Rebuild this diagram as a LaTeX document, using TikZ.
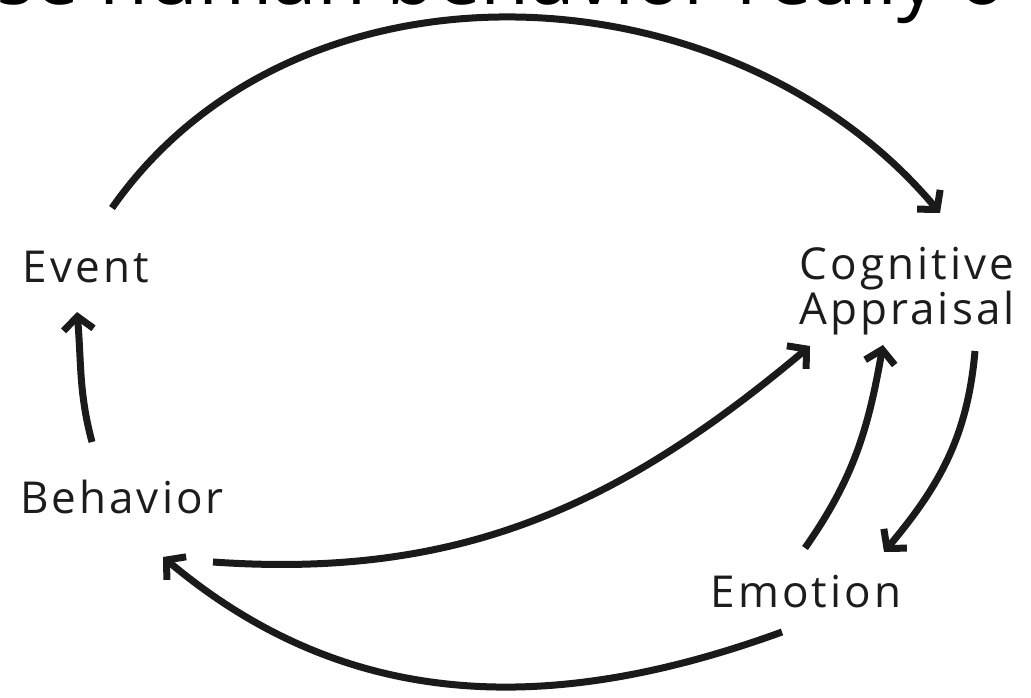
\documentclass[tikz,border=0pt]{standalone}
\usepackage{fontspec}
\usetikzlibrary{arrows.meta}
\newfontfamily\lblfont[LetterSpace=7]{Open Sans}
\newfontfamily\headfont{Open Sans}
\definecolor{musta}{HTML}{1A1A1A}
\definecolor{teksti}{HTML}{1C1C1C}

\begin{document}
\begin{tikzpicture}[x=1pt,y=1pt,
    lbl/.style={font=\lblfont\fontsize{44}{45}\selectfont, text=teksti, inner sep=0pt, align=center},
    nuoli/.style={draw=musta, line width=7pt, -{Straight Barb[length=13pt,width=30pt]}}]
				\useasboundingbox (0,0) rectangle (1031,697);
				\fill[white] (0,0) rectangle (1031,697);
				% otsikko, leikattu yläreunasta
				\begin{scope}
					\clip (0,0) rectangle (1031,697);
					\node[anchor=base west, inner sep=0pt, font=\headfont\fontsize{80}{84}\selectfont] (otsikko) at (-4,692) {se human behavior really o};
				\end{scope}
				\node[lbl] (event) at (86,430) {Event};
				\node[lbl] (cog) at (907,406) {Cognitive\\Appraisal};
				\node[lbl] (behavior) at (122,200) {Behavior};
				\node[lbl] (emotion) at (806,105) {Emotion};
				\draw[nuoli] ([shift={(26,59)}]event.center) to[out=55,in=130] ([shift={(33,78)}]cog.center);
				\draw[nuoli] ([shift={(-30,55)}]behavior.center) to[out=105,in=-85] ([shift={(-9,-45)}]event.center);
				\draw[nuoli] ([shift={(91,-65)}]behavior.center) to[out=-4,in=220] ([shift={(-97,-55)}]cog.center);
				\draw[nuoli] ([shift={(-1,44)}]emotion.center) to[out=55,in=-100] ([shift={(-24,-54)}]cog.center);
				\draw[nuoli] ([shift={(68,-60)}]cog.center) to[out=-95,in=50] ([shift={(78,40)}]emotion.center);
				\draw[nuoli] ([shift={(-24,-40)}]emotion.center) to[out=200,in=-40] ([shift={(41,-60)}]behavior.center);
			\end{tikzpicture}
\end{document}
